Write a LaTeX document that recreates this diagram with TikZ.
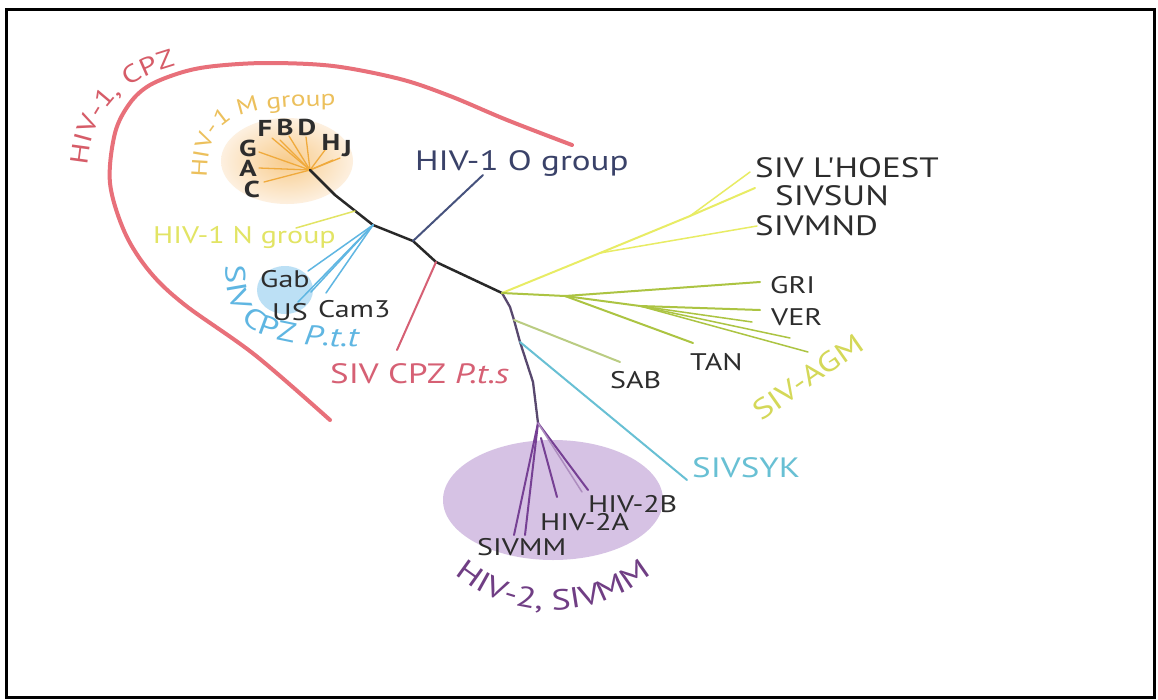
\documentclass[tikz,border=0pt]{standalone}
\usepackage{fontspec}
\usetikzlibrary{decorations.text}
\newfontfamily\labfam[FakeStretch=1.25]{PT Sans}
\newcommand\labtxt{\labfam\fontsize{28}{31}\selectfont}
\newcommand\smtxt{\labfam\fontsize{24}{28}\selectfont}
\newcommand\mtxt{\labfam\fontsize{22}{26}\selectfont}
\newcommand\cpztxt{\labfam\fontsize{25}{28}\selectfont}
\newcommand\hivtxt{\labfam\fontsize{29}{32}\selectfont}
\definecolor{arcred}{RGB}{232,112,122}
\definecolor{labred}{RGB}{214,92,104}
\definecolor{mgold}{RGB}{236,192,92}
\definecolor{morange}{RGB}{240,170,60}
\definecolor{orin}{RGB}{248,204,140}
\definecolor{orout}{RGB}{253,240,224}
\definecolor{trunkc}{RGB}{40,40,40}
\definecolor{lowtrunk}{RGB}{88,72,110}
\definecolor{oblue}{RGB}{70,82,125}
\definecolor{otext}{RGB}{58,66,105}
\definecolor{nyel}{RGB}{226,228,100}
\definecolor{pttblue}{RGB}{95,182,226}
\definecolor{pttfill}{RGB}{188,224,245}
\definecolor{ptsred}{RGB}{214,96,116}
\definecolor{lyel}{RGB}{232,236,100}
\definecolor{agm}{RGB}{172,196,66}
\definecolor{agmlab}{RGB}{212,216,88}
\definecolor{sabc}{RGB}{186,204,130}
\definecolor{syk}{RGB}{104,192,212}
\definecolor{hivtwo}{RGB}{118,64,148}
\definecolor{hivfill}{RGB}{214,194,228}
\definecolor{hivlab}{RGB}{112,62,132}
\definecolor{lbl}{RGB}{45,45,45}
\begin{document}
\begin{tikzpicture}[x=1pt,y=-1pt,
  lab/.style={font=\labtxt, text=lbl, inner sep=0pt, anchor=base west},
  smlab/.style={lab, font=\smtxt},
  mlet/.style={font=\labfam\fontsize{23}{26}\selectfont\bfseries, text=lbl, inner sep=0pt},
  brn/.style={line width=2pt, line cap=round, line join=round},
  thin/.style={line width=1.5pt, line cap=round}]
\useasboundingbox (0,0) rectangle (1158,699);
\fill[white] (0,0) rectangle (1158,699);
\draw[line width=3pt] (6,9) rectangle (1154,697);
% background blobs
\shade[inner color=orin, outer color=orout] (287,161) ellipse [x radius=66, y radius=43];
\fill[pttfill] (285,290) ellipse [x radius=28, y radius=24];
\fill[hivfill] (553,500) ellipse [x radius=110, y radius=60];
% red HIV-1/CPZ arc
\draw[arcred, line width=4pt, line cap=round] plot[smooth, tension=0.55] coordinates {(572,145) (507,120) (450,96) (400,79) (333,66) (267,63) (215,66) (183,72) (150,85) (130,103) (115,133) (110,183) (125,233) (150,272) (185,305) (255,355) (330,420)};
\path[decorate, decoration={text along path, text align=center,
  text={|\cpztxt\color{labred}|HIV-1{,} CPZ}}]
  (88,182) .. controls (85,122) and (115,76) .. (192,62);
% M group label
\path[decorate, decoration={text along path, text align=center,
  text={|\mtxt\color{mgold}|HIV-1 M group}}]
  (207,192) .. controls (205,120) and (220,104) .. (350,106);
% coordinates
\coordinate (hub) at (310,170);
\coordinate (t1) at (335,195);
\coordinate (t2) at (373,225);
\coordinate (jO) at (413,241);
\coordinate (jS) at (436,262);
\coordinate (main) at (502,293);
\coordinate (t3) at (510,307);
\coordinate (jSAB) at (514,320);
\coordinate (jSYK) at (520,342);
\coordinate (t4) at (533,382);
\coordinate (h2) at (538,423);
\coordinate (nS) at (355,211);
\coordinate (oEnd) at (483,175);
\coordinate (ptsEnd) at (397,350);
\coordinate (nEnd) at (296,228);
\coordinate (yB) at (600,253);
\coordinate (yA) at (690,216);
\coordinate (gHub) at (565,296);
\coordinate (vHub) at (640,306);
\coordinate (h2b) at (541,438);
% M group fan
\foreach \p in {(272,138),(289,136),(306,137),(325,150),(340,158),(259,152),(259,168),(264,182),(280,140),(333,160)}
  \draw[morange, line width=1.3pt, line cap=round] (hub) -- \p;
% trunk
\draw[trunkc, line width=2.5pt, line join=round, line cap=round] (hub) -- (t1) -- (t2) -- (jO) -- (jS) -- (main);
\draw[lowtrunk, line width=2.3pt, line join=round, line cap=round] (main) -- (t3) -- (jSAB) -- (jSYK) -- (t4) -- (h2);
% side branches
\draw[brn, oblue] (jO) -- (oEnd);
\draw[brn, ptsred] (jS) -- (ptsEnd);
\draw[thin, nyel] (nS) -- (nEnd);
\foreach \p in {(308,271),(298,302),(311,292),(326,293)}
  \draw[thin, pttblue] (t2) -- \p;
% SIV L'HOEST / SUN / MND
\draw[brn, lyel] (main) -- (yB) -- (yA) -- (755,188);
\draw[thin, lyel] (yB) -- (757,226);
\draw[thin, lyel] (yA) -- (750,172);
% AGM
\draw[brn, agm] (main) -- (gHub) -- (760,282);
\draw[brn, agm] (gHub) -- (vHub) -- (760,310);
\draw[thin, agm] (vHub) -- (790,338);
\draw[thin, agm] (vHub) -- (808,352);
\draw[thin, agm] (vHub) -- (752,322);
\draw[brn, agm] (gHub) -- (693,343);
\draw[brn, sabc] (jSAB) -- (620,362);
% SYK
\draw[brn, syk] (jSYK) -- (687,480);
% HIV-2
\draw[brn, hivtwo] (h2) -- (514,535);
\draw[brn, hivtwo] (h2) -- (525,535);
\draw[brn, hivtwo] (h2b) -- (557,497);
\draw[brn, hivtwo] (h2) -- (588,490);
\draw[thin, hivtwo!60] (h2) -- (582,492);
% labels
\node[lab, text=otext] (lO) at (415,170) {HIV-1 O group};
\node[lab] (lL) at (755,177) {SIV L'HOEST};
\node[lab] (lSUN) at (775,205) {SIVSUN};
\node[lab] (lMND) at (755,235) {SIVMND};
\node[smlab] (lGRI) at (770,293) {GRI};
\node[smlab] (lVER) at (771,325) {VER};
\node[smlab] (lTAN) at (690,370) {TAN};
\node[smlab] (lSAB) at (610,388) {SAB};
\node[lab, text=syk] (lSYK) at (692,477) {SIVSYK};
\node[smlab] (l2B) at (588,512) {HIV-2B};
\node[smlab] (l2A) at (540,530) {HIV-2A};
\node[smlab] (lMM) at (477,555) {SIVMM};
\node[smlab] (lGab) at (260,287) {Gab};
\node[smlab] (lUS) at (272,320) {US};
\node[smlab] (lCam) at (318,317) {Cam3};
\node[lab, text=ptsred] (lPts) at (330,383) {SIV CPZ \textit{P.t.s}};
\node[smlab, text=nyel] (lN) at (153,243) {HIV-1 N group};
\node[lab, anchor=center, text=agmlab, rotate=35] (lAGM) at (808,377) {SIV-AGM};
% M letters
\node[mlet] (mG) at (248,148) {G};
\node[mlet] (mF) at (265,128) {F};
\node[mlet] (mB) at (285,127) {B};
\node[mlet] (mD) at (307,127) {D};
\node[mlet] (mH) at (331,142) {H};
\node[mlet] (mJ) at (347,149) {J};
\node[mlet] (mA) at (248,168) {A};
\node[mlet] (mC) at (252,189) {C};
% curved labels
\path[decorate, decoration={text along path, text align=center,
  text={|\labtxt\color{pttblue}|SIV CPZ |\labtxt\color{pttblue}\itshape|P.t.t}}]
  (226,252) .. controls (222,330) and (250,347) .. (372,347);
\path[decorate, decoration={text along path, text align=center,
  text={|\hivtxt\color{hivlab}|HIV-2{,} SIVMM}}]
  (553,458) ++(138:152) arc[start angle=138, end angle=42, radius=152];
\end{tikzpicture}
\end{document}
